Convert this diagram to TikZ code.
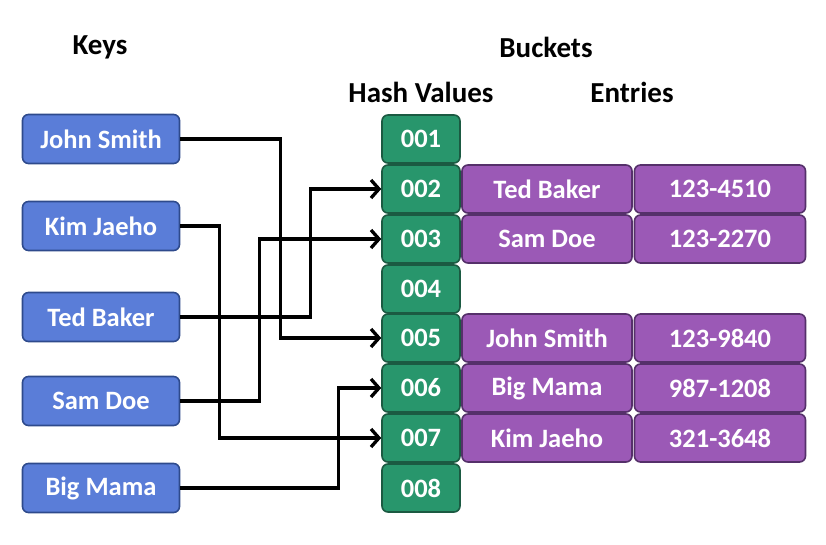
\documentclass[tikz,border=0pt]{standalone}
\usepackage{fontspec}
\setmainfont{Carlito}
\usetikzlibrary{arrows.meta}
\definecolor{keyblue}{HTML}{5A7DD8}
\definecolor{keyedge}{HTML}{2E4A8C}
\definecolor{hashgreen}{HTML}{28966C}
\definecolor{hashedge}{HTML}{1B5A42}
\definecolor{entpurple}{HTML}{9B59B6}
\definecolor{entedge}{HTML}{55306A}
\tikzset{
  box/.style={rounded corners=6pt, line width=1.6pt, text=white,
    font=\fontsize{26.5}{30}\selectfont\bfseries, inner sep=0pt},
  keybox/.style={box, fill=keyblue, draw=keyedge, minimum width=157pt, minimum height=49pt},
  hashbox/.style={box, fill=hashgreen, draw=hashedge, minimum width=78pt, minimum height=48pt},
  namebox/.style={box, fill=entpurple, draw=entedge, minimum width=170pt, minimum height=48pt},
  numbox/.style={box, fill=entpurple, draw=entedge, minimum width=171pt, minimum height=48pt},
  head/.style={font=\fontsize{29}{33}\selectfont\bfseries},
  link/.style={line width=3.3pt, -{Straight Barb[length=8pt,width=18pt,line width=3.3pt]}}
}
\begin{document}
\begin{tikzpicture}[x=1pt,y=-1pt]
    \useasboundingbox (0,0) rectangle (826,544);
    % headings
    \node[head] (keys) at (100,47) {Keys};
    \node[head] (buckets) at (546,47) {Buckets};
    \node[head] (hashv) at (421,92) {Hash Values};
    \node[head] (entries) at (632,92) {Entries};
    % keys
    \node[keybox] (js) at (101,139) {John Smith};
    \node[keybox] (kj) at (101,226) {Kim Jaeho};
    \node[keybox] (tb) at (101,317) {Ted Baker};
    \node[keybox] (sd) at (101,401) {Sam Doe};
    \node[keybox] (bm) at (101,488) {Big Mama};
    % hash values
    \foreach \i/\y in {1/139,2/189,3/239,4/289,5/338,6/388,7/438,8/488}
        \node[hashbox] (h\i) at (421,\y) {00\i};
    % entries
    \node[namebox] (e2) at (547,189) {Ted Baker};
    \node[numbox] (n2) at (720,189) {123-4510};
    \node[namebox] (e3) at (547,239) {Sam Doe};
    \node[numbox] (n3) at (720,239) {123-2270};
    \node[namebox] (e5) at (547,338) {John Smith};
    \node[numbox] (n5) at (720,338) {123-9840};
    \node[namebox] (e6) at (547,388) {Big Mama};
    \node[numbox] (n6) at (720,388) {987-1208};
    \node[namebox] (e7) at (547,438) {Kim Jaeho};
    \node[numbox] (n7) at (720,438) {321-3648};
    % links
    \draw[link] (js.east) -- ++(100,0) |- (h5.west);
    \draw[link] (kj.east) -- ++(39,0) |- (h7.west);
    \draw[link] (tb.east) -- ++(130,0) |- (h2.west);
    \draw[link] (sd.east) -- ++(79,0) |- (h3.west);
    \draw[link] (bm.east) -- ++(158,0) |- (h6.west);
\end{tikzpicture}
\end{document}
